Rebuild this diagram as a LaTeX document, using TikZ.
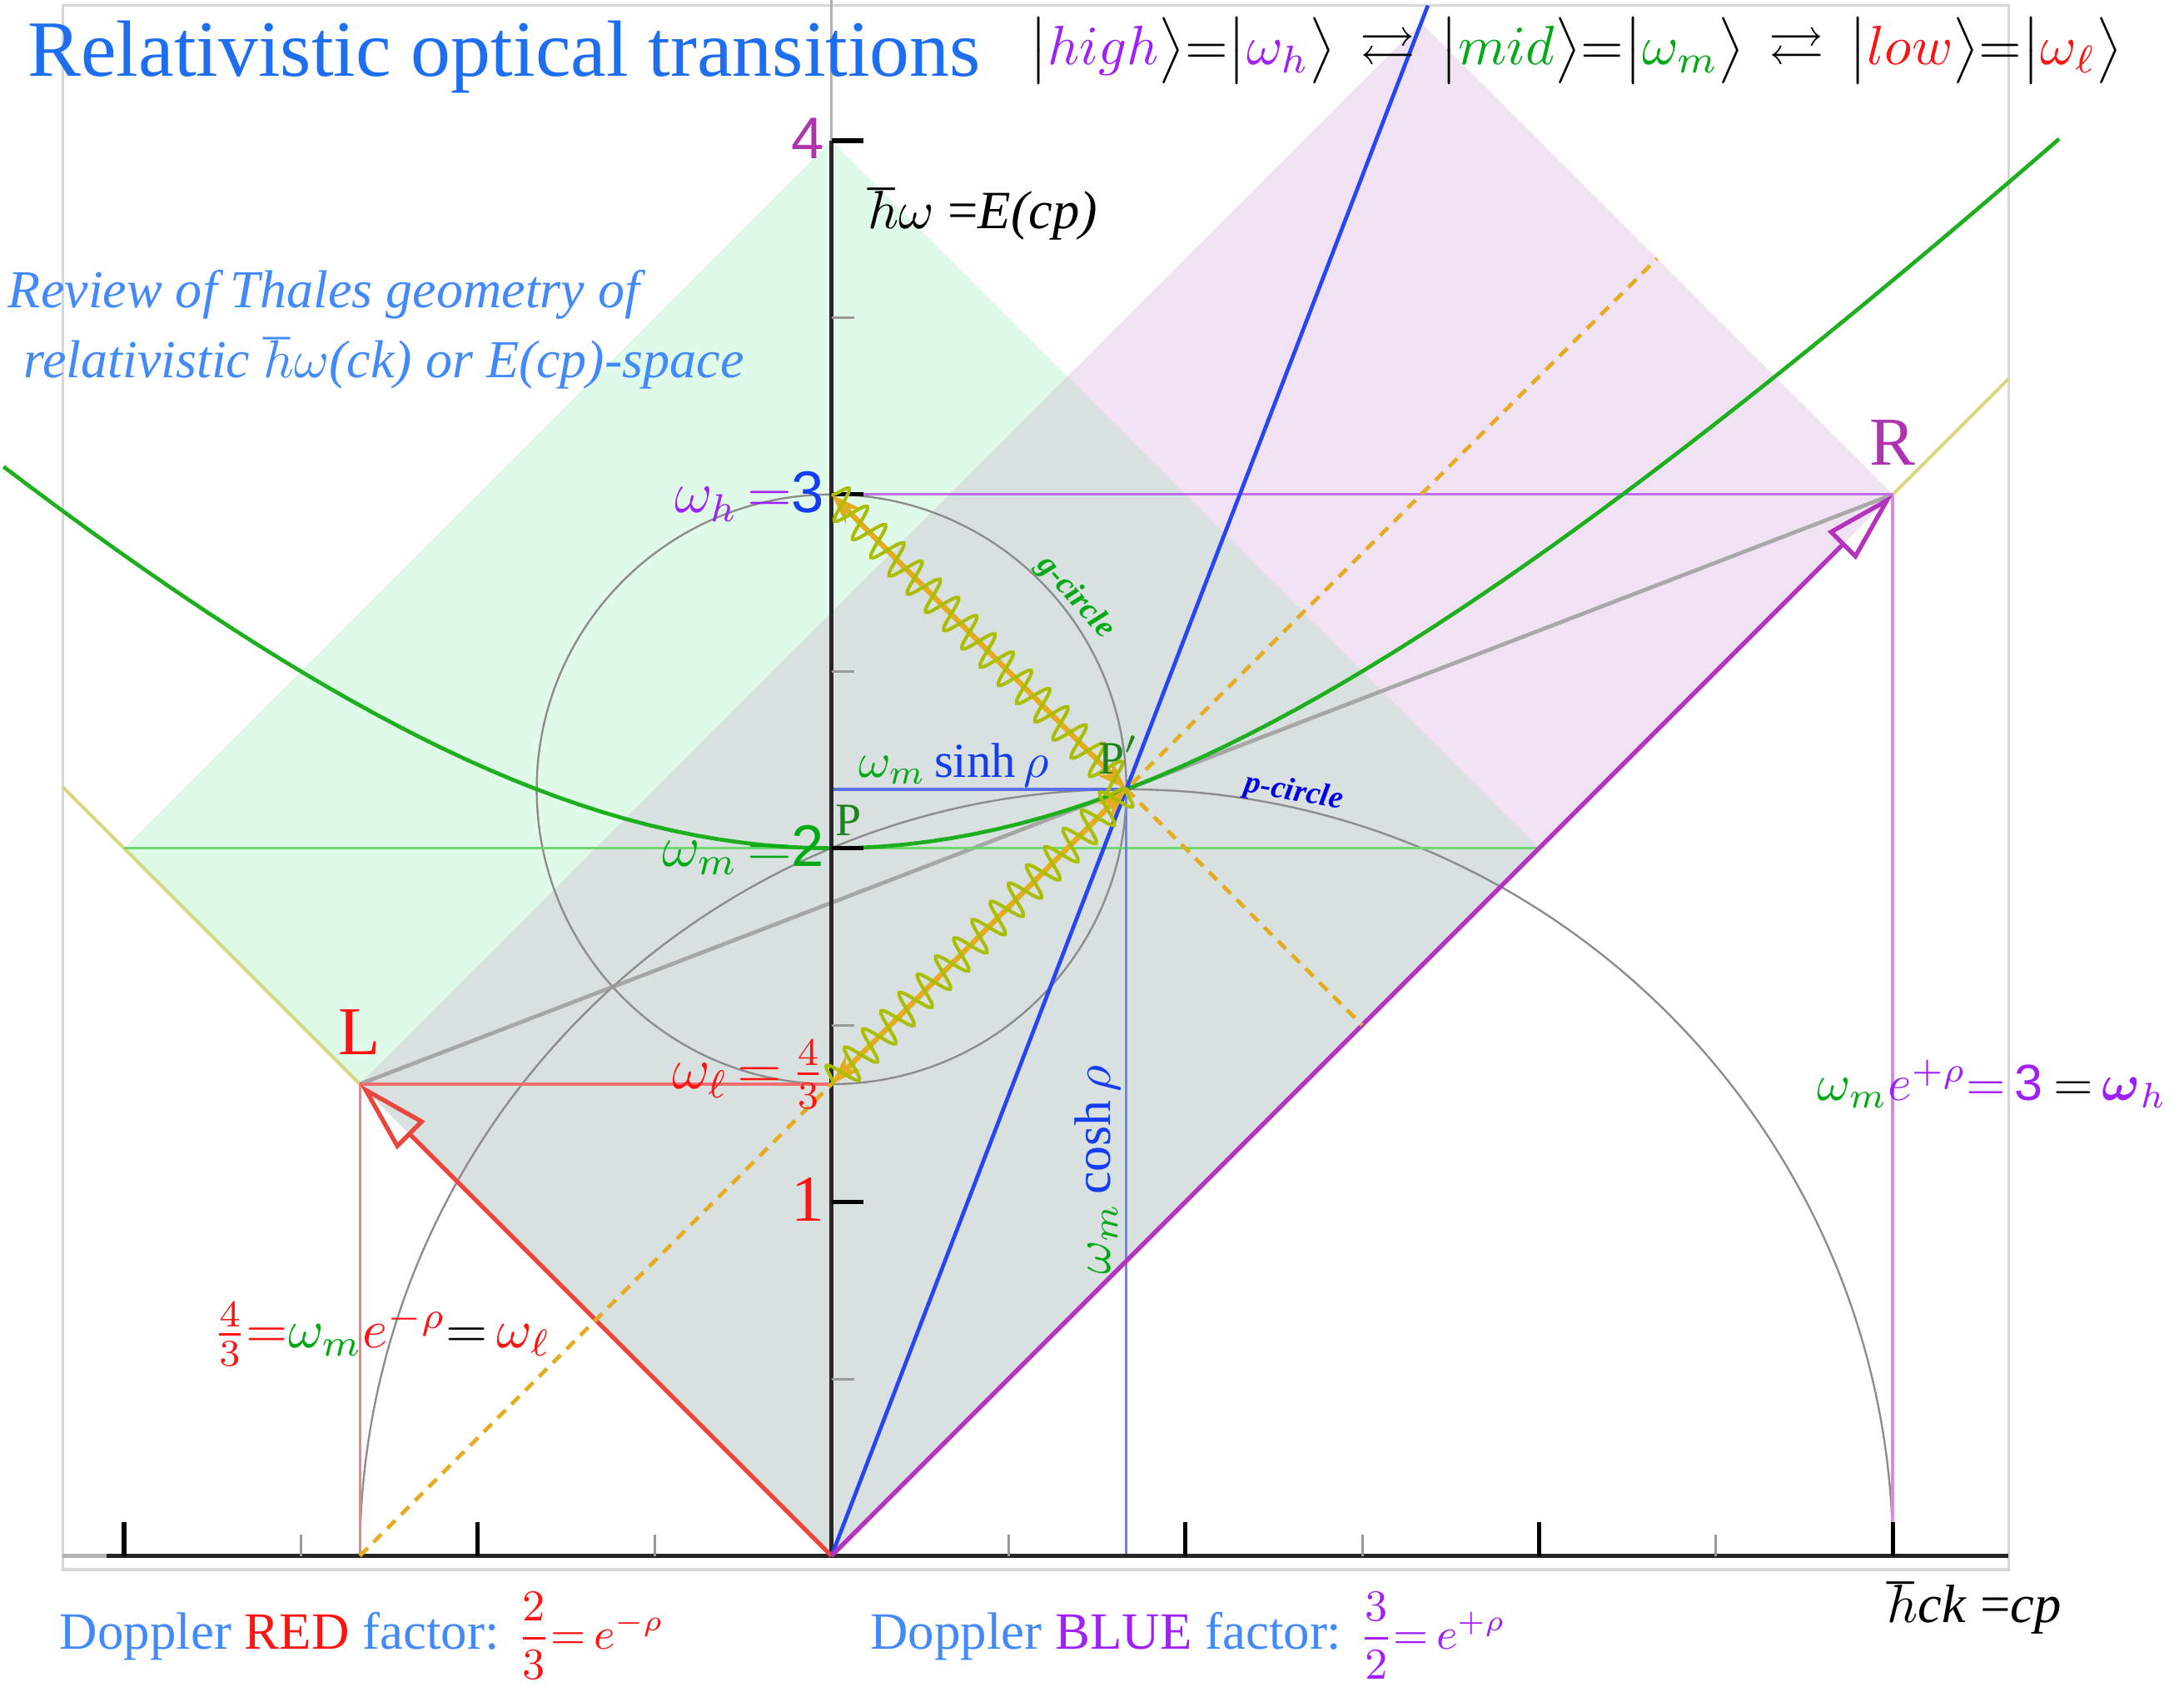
\documentclass[tikz,border=0pt]{standalone}
\usepackage{fix-cm}
\usepackage{amsmath,amssymb}
\usepackage{fontspec}
\setmainfont{Liberation Serif}
\setsansfont{Liberation Sans}
\usepackage{xcolor}
\usetikzlibrary{positioning, arrows.meta, decorations.pathmorphing}

\definecolor{titleblue}{RGB}{30,110,240}
\definecolor{textblue}{RGB}{66,138,250}
\definecolor{kpurple}{RGB}{160,32,250}
\definecolor{kgreen}{RGB}{0,170,20}
\definecolor{kdarkgreen}{RGB}{30,130,30}
\definecolor{kred}{RGB}{255,20,20}
\definecolor{kmagenta}{RGB}{175,50,175}
\definecolor{kblue}{RGB}{20,60,240}
\definecolor{fillgreen}{RGB}{224,250,233}
\definecolor{fillpink}{RGB}{241,226,243}
\definecolor{fillgray}{RGB}{217,224,224}
\definecolor{conecol}{RGB}{215,215,130}
\definecolor{photoncol}{RGB}{228,172,30}
\definecolor{wavecol}{RGB}{170,190,0}
\definecolor{framegray}{RGB}{215,215,215}

\begin{document}
\begin{tikzpicture}[x=2.54cm, y=2.54cm, every node/.style={inner sep=0pt, outer sep=0pt}]
        \tikzstyle{frameline} = [draw=framegray, line width=0.6pt]
        \tikzstyle{circleline} = [draw=black!45, line width=0.4pt]
        \tikzstyle{coneline} = [draw=conecol, line width=0.7pt]
        \tikzstyle{levelline} = [line width=0.55pt]
        \tikzstyle{axisline} = [draw=black!85, line width=0.9pt]
        \tikzstyle{majortick} = [draw=black, line width=0.9pt]
        \tikzstyle{minortick} = [draw=black!40, line width=0.5pt]
        \tikzstyle{doppler} = [line width=0.9pt, -{Triangle[open, length=5.2mm, width=2.8mm]}]
        \tikzstyle{photon} = [draw=photoncol, line width=1.1pt, {Stealth[length=2.2mm, width=1.5mm]}-{Stealth[length=2.2mm, width=1.5mm]}]
        \tikzstyle{wavy} = [draw=wavecol, line width=0.7pt, decorate, decoration={snake, amplitude=1.2mm, segment length=1.85mm}]
        \tikzstyle{dashline} = [draw=photoncol, line width=0.8pt, dash pattern=on 0.8mm off 0.6mm]
        \tikzstyle{ticklabel} = [font=\sffamily\fontsize{12}{14}\selectfont]
        \tikzstyle{pointlabel} = [font=\fontsize{14}{16}\selectfont]
        \tikzstyle{circlelabel} = [font=\bfseries\itshape\fontsize{6.5}{8}\selectfont]
        \tikzstyle{doplabel} = [font=\fontsize{10.7}{13}\selectfont, text=textblue, anchor=base west]

        \useasboundingbox (-2.3504,-0.3976) rectangle (3.8228,4.3976);

        % points of the construction
        \coordinate (O) at (0,0);
        \coordinate (L) at (-4/3,4/3);
        \coordinate (R) at (3,3);
        \coordinate (Pp) at (5/6,13/6);
        \coordinate (P) at (0,2);
        \coordinate (Wh) at (0,3);
        \coordinate (Wl) at (0,4/3);
        \coordinate (Gc) at (0,13/6);
        \coordinate (Lx) at (-4/3,0);
        \coordinate (Rx) at (3,0);
        \coordinate (Px) at (5/6,0);
        \coordinate (Gl) at (-2,2);
        \coordinate (Gr) at (2,2);
        \coordinate (Gt) at (0,4);
        \coordinate (Pt) at (5/3,13/3);
        \coordinate (Ot) at (2/3,10/3);
        \coordinate (Dtop) at (7/3,11/3);
        \coordinate (Dmid) at (1.5,1.5);
        \coordinate (Btop) at (1.6855,4.382);
        \coordinate (Cl) at (-2.173,2.173);
        \coordinate (Cr) at (3.327,3.327);
        \coordinate (Ytop) at (0,4.3976);
        \coordinate (Xl) at (-2.173,0);
        \coordinate (Xa) at (-2.05,0);
        \coordinate (Xr) at (3.327,0);

        % light cones
        \fill[fillgreen] (O) -- (Gr) -- (Gt) -- (Gl) -- cycle;
        \fill[fillpink] (O) -- (R) -- (Pt) -- (L) -- cycle;
        \fill[fillgray] (O) -- (Gr) -- (Ot) -- (L) -- cycle;
        \draw[frameline] (-2.173,-0.039) rectangle (3.327,4.382);

        \draw[coneline] (Cl) -- (L);
        \draw[coneline] (R) -- (Cr);

        % Thales circles
        \draw[circleline] (Gc) circle (5/6);
        \draw[circleline] (Rx) arc (0:180:13/6);
        \draw[draw=black!40, line width=0.8pt, opacity=0.8] (L) -- (R);

        % level lines
        \draw[levelline, draw={rgb,255:red,190;green,110;blue,240}] (Wh) -- (R);
        \draw[levelline, draw={rgb,255:red,215;green,140;blue,225}, line width=0.7pt] (R) -- (Rx);
        \draw[levelline, draw={rgb,255:red,240;green,110;blue,110}] (L) -- (Wl);
        \draw[levelline, draw={rgb,255:red,240;green,130;blue,130}] (L) -- (Lx);
        \draw[levelline, draw={rgb,255:red,110;green,215;blue,110}] (Gl) -- (Gr);
        \draw[levelline, draw={rgb,255:red,90;green,110;blue,240}] (Gc) -- (Pp);
        \draw[levelline, draw={rgb,255:red,110;green,130;blue,245}] (Pp) -- (Px);

        % hyperbola
        \draw[draw={rgb,255:red,30;green,175;blue,30}, line width=0.8pt] plot[domain=-2.34:3.47, samples=90] (\x, {sqrt(4+\x*\x)});

        % axes
        \draw[draw=black!30, line width=0.5pt] (Gt) -- (Ytop);
        \draw[draw=black!30, line width=0.9pt] (Xl) -- (Xa);
        \draw[axisline] (O) -- (Gt);
        \draw[axisline] (Xa) -- (Xr);
        \foreach \t in {-2,-1,1,2,3} \draw[majortick] (\t,0) -- (\t,0.095);
        \foreach \t in {-1.5,-0.5,0.5,1.5,2.5} \draw[minortick] (\t,0) -- (\t,0.06);
        \foreach \t in {1,2,3,4} \draw[majortick] (0,\t) -- (0.09,\t);
        \foreach \t in {0.5,1.5,2.5,3.5} \draw[minortick] (0,\t) -- (0.065,\t);

        % rapidity line and Doppler vectors
        \draw[draw={rgb,255:red,40;green,70;blue,240}, line width=0.8pt] (O) -- (Btop);
        \draw[doppler, draw={rgb,255:red,235;green,70;blue,60}] (O) -- (L);
        \draw[doppler, draw={rgb,255:red,180;green,50;blue,190}] (O) -- (R);

        \draw[dashline] (Lx) -- (Dtop);
        \draw[dashline] (Pp) -- (Dmid);

        % photons
        \draw[photon] (Wh) -- (Pp);
        \draw[photon] (Pp) -- (Wl);
        \draw[wavy] (Wh) -- (Pp);
        \draw[wavy] (Pp) -- (Wl);

        % labels
        \node[anchor=base west, text=titleblue, font=\fontsize{16.3}{19}\selectfont] (title) at (-2.2717,4.1811) {Relativistic optical transitions};
        \node[anchor=base west, font=\fontsize{11.3}{11}\selectfont] (kets) at (0.559,4.215)
            {$\bigl|\textcolor{kpurple}{high}\bigr\rangle{=}\bigl|\textcolor{kpurple}{\omega_h}\bigr\rangle\,\rightleftarrows\,\bigl|\textcolor{kgreen}{mid}\bigr\rangle{=}\bigl|\textcolor{kgreen}{\omega_m}\bigr\rangle\,\rightleftarrows\,\bigl|\textcolor{kred}{low}\bigr\rangle{=}\bigl|\textcolor{kred}{\omega_\ell}\bigr\rangle$};

        \node[ticklabel, text=kmagenta, anchor=base east] (lab4) at (-0.02,3.949) {4};
        \node[ticklabel, anchor=base east] (lab3) at (-0.02,2.949) {$\textcolor{kpurple}{\omega_h\,{=}}$\textcolor{kblue}{3}};
        \node[ticklabel, anchor=base east] (lab2) at (-0.02,1.949) {$\textcolor{kgreen}{\omega_m\,{=}}$\textcolor{kgreen}{2}};
        \node[font=\fontsize{12}{14}\selectfont, anchor=east] (labl) at (-0.02,1.36) {$\textcolor{kred}{\omega_\ell\,{=}\,\frac{4}{3}}$};
        \node[font=\fontsize{13.4}{15}\selectfont, text=kred] (lab1) at (-0.067,1.008) {1};

        \node[anchor=base west, font=\fontsize{11}{13}\selectfont] (eaxis) at (0.102,3.752) {$\hbar\omega$ =\textit{E(cp)}};
        \node[anchor=base west, font=\fontsize{11}{13}\selectfont] (paxis) at (2.984,-0.189) {$\hbar$\textit{ck} =\textit{cp}};

        \node[anchor=base west, text=textblue, font=\itshape\fontsize{10.9}{12}\selectfont] (review) at (-2.327,3.528) {Review of Thales geometry of};
        \node[anchor=base west, text=textblue, font=\itshape\fontsize{10.9}{12}\selectfont] (review2) at (-2.283,3.331) {relativistic $\hbar\omega$(ck) or E(cp)-space};

        \node[pointlabel, text=kmagenta] (labR) at (3.0,3.146) {R};
        \node[pointlabel, text=kred] (labL) at (-1.335,1.480) {L};
        \node[font=\fontsize{9.5}{11}\selectfont, text=kdarkgreen] (labP) at (0.047,2.079) {P};
        \node[font=\fontsize{9.5}{11}\selectfont, text=kdarkgreen] (labPp) at (0.811,2.264) {P$'$};

        \node[circlelabel, text=kgreen, rotate=-48] (gcirc) at (0.689,2.709) {g-circle};
        \node[circlelabel, text={rgb,255:red,0;green,0;blue,230}, rotate=-10] (pcirc) at (1.307,2.157) {p-circle};

        \node[font=\fontsize{10}{12}\selectfont] (sinh) at (0.346,2.236) {$\textcolor{kgreen}{\omega_m}\,\textcolor{kblue}{\sinh\rho}$};
        \node[font=\fontsize{10.5}{12}\selectfont, rotate=90] (cosh) at (0.752,1.091) {$\textcolor{kgreen}{\omega_m}\,\textcolor{kblue}{\cosh\rho}$};

        \node[anchor=base west, font=\fontsize{10.4}{12}\selectfont] (blueeq) at (2.787,1.287)
            {$\textcolor{kgreen}{\omega_m}\textcolor{kpurple}{e^{+\rho}{=}}$\,\textcolor{kpurple}{\sffamily 3}\hspace{0.8mm}${=}\,\textcolor{kpurple}{\boldsymbol{\omega}_h}$};
        \node[anchor=west, font=\fontsize{11}{14}\selectfont] (redeq) at (-1.748,0.626)
            {$\textcolor{kred}{\frac{4}{3}{=}}\textcolor{kgreen}{\omega_m}\textcolor{kred}{e^{-\rho}}{=}\,\textcolor{kred}{\omega_\ell}$};

        \node[doplabel] (dopred) at (-2.181,-0.264) {Doppler \textcolor{kred}{RED} factor: \textcolor{kred}{\fontsize{9}{10}\selectfont$\dfrac{2}{3}{=}\,e^{-\rho}$}};
        \node[doplabel] (dopblue) at (0.110,-0.264) {Doppler \textcolor{kpurple}{BLUE} factor: \textcolor{kpurple}{\fontsize{9}{10}\selectfont$\dfrac{3}{2}{=}\,e^{+\rho}$}};
\end{tikzpicture}
\end{document}
